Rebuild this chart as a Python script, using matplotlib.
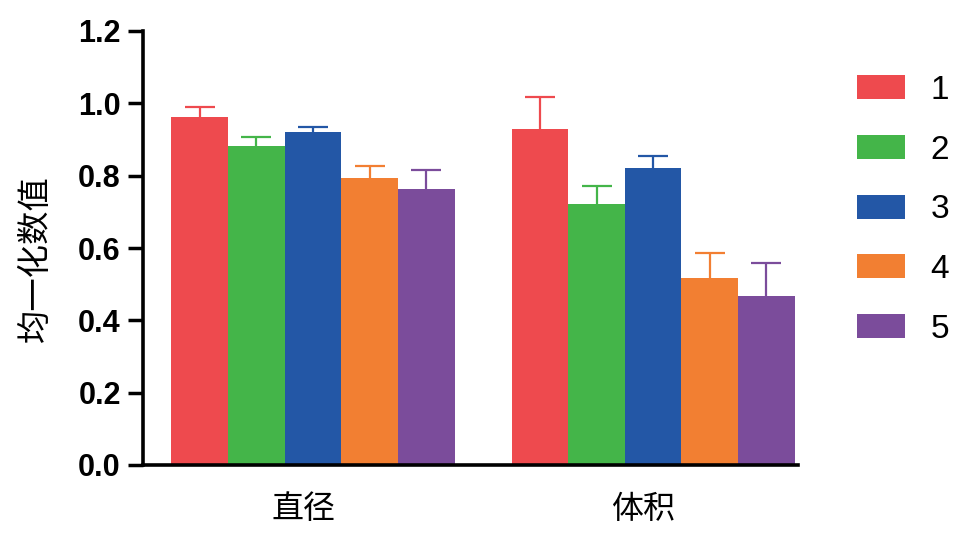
import numpy as np
import matplotlib
matplotlib.use('Agg')
import matplotlib.pyplot as plt
import matplotlib.transforms as mtransforms

# DATA
groups = ['直径', '体积']
series = ['1', '2', '3', '4', '5']
means = [
    [0.963, 0.929],
    [0.882, 0.722],
    [0.922, 0.822],
    [0.793, 0.518],
    [0.762, 0.467],
]
errs = [
    [0.028, 0.088],
    [0.024, 0.050],
    [0.013, 0.032],
    [0.033, 0.068],
    [0.053, 0.092],
]
colors = ['#EE4A4E', '#44B549', '#2357A6', '#F27F32', '#7B4C9B']

plt.rcParams['font.family'] = ['Liberation Sans', 'Noto Sans CJK SC', 'DejaVu Sans']

fig = plt.figure(figsize=(9.72, 5.44), dpi=100)
ax = fig.add_axes([143/972, 1-465/544, 655/972, 434/544])

x = np.arange(len(groups))
w = 0.1665
for i, name in enumerate(series):
    pos = x + (i - 2) * w
    ax.bar(pos, means[i], width=w, color=colors[i], label=name, zorder=2)
    eb = ax.errorbar(pos, means[i], yerr=[np.zeros(len(groups)), errs[i]], fmt='none',
                     ecolor=colors[i], elinewidth=1.6, capsize=10.5, capthick=1.6, zorder=1)
    # only the upper cap, like the original
    eb[1][0].set_visible(False)

ax.set_xlim(-0.5, 1.426)
ax.set_ylim(0, 1.2)
ax.set_yticks(np.arange(0, 1.21, 0.2))
ax.set_yticklabels(['%.1f' % v for v in np.arange(0, 1.21, 0.2)],
                   fontsize=22, fontweight='bold', family='Liberation Sans')
ax.set_xticks(x)
ax.set_xticklabels(groups, fontsize=23, family='Noto Sans CJK SC')
ax.tick_params(axis='y', length=11, width=2.5, pad=5)
ax.tick_params(axis='x', length=0, pad=20)

# group labels sit a little left of the bar centres in the original
shift = mtransforms.ScaledTranslation(-0.10, 0, fig.dpi_scale_trans)
for lab in ax.get_xticklabels():
    lab.set_transform(lab.get_transform() + shift)

for s in ['top', 'right']:
    ax.spines[s].set_visible(False)
for s in ['left', 'bottom']:
    ax.spines[s].set_linewidth(2.6)

ax.set_ylabel('均一化数值', fontsize=24, family='Noto Sans CJK SC')
ax.yaxis.set_label_coords(-0.137, 0.475)

fig.legend(loc='upper left', bbox_to_anchor=(857/972, 1-75/544), frameon=False,
           fontsize=24, handlelength=1.45, handleheight=0.72, handletextpad=0.75,
           labelspacing=0.86, borderpad=0, borderaxespad=0)

fig.savefig('out.png', dpi=100)
